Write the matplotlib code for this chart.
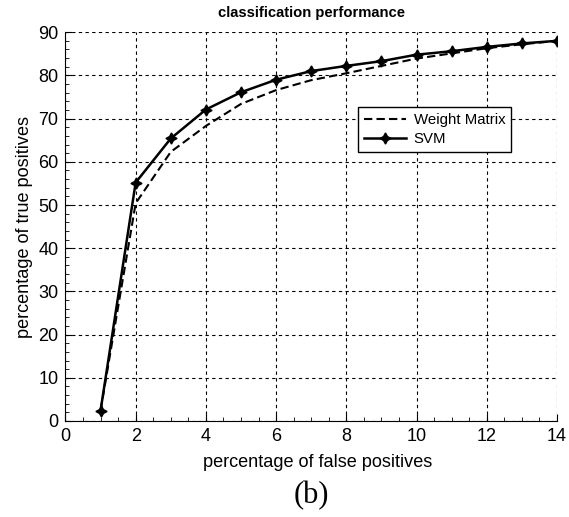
import matplotlib
matplotlib.use('Agg')
import matplotlib.pyplot as plt
from matplotlib.ticker import MultipleLocator

plt.rcParams['font.family'] = ['Liberation Sans', 'DejaVu Sans']

# False-positive percentage (x) and true-positive percentage (y)
fp = [1, 2, 3, 4, 5, 6, 7, 8, 9, 10, 11, 12, 13, 14]
svm_tp = [2.4, 55.2, 65.4, 72.1, 76.1, 79.0, 81.0, 82.2, 83.3, 84.8, 85.6, 86.6, 87.4, 88.0]
wm_tp = [2.4, 50.4, 62.3, 68.3, 73.4, 76.6, 78.9, 80.5, 82.2, 83.9, 85.1, 86.3, 87.2, 88.0]

fig = plt.figure(figsize=(5.69, 5.17), dpi=100)
ax = fig.add_axes([0.115, 0.1857, 0.864, 0.752])

ax.plot(fp, wm_tp, color='black', linestyle=(0, (4, 2)), linewidth=1.5, label='Weight Matrix')
ax.plot(fp, svm_tp, color='black', linestyle='-', linewidth=1.8,
        marker=(4, 1, 0), markersize=8, label='SVM')

ax.set_xlim(0, 14)
ax.set_ylim(0, 90)
ax.xaxis.set_major_locator(MultipleLocator(2))
ax.xaxis.set_minor_locator(MultipleLocator(0.5))
ax.yaxis.set_major_locator(MultipleLocator(10))
ax.yaxis.set_minor_locator(MultipleLocator(2))
ax.tick_params(which='both', direction='in', labelsize=13, pad=5)
ax.tick_params(which='major', length=5)
ax.tick_params(which='minor', length=3)

ax.grid(True, which='major', color='black', linestyle=(0, (3, 3)), linewidth=0.8)
ax.spines['top'].set_visible(False)
ax.spines['right'].set_visible(False)

ax.set_title('classification performance', fontsize=10.6, fontweight='bold', pad=11)
ax.set_xlabel('percentage of false positives', fontsize=13.1, labelpad=6)
ax.set_ylabel('percentage of true positives', fontsize=13.1, labelpad=4)
ax.xaxis.set_label_coords(0.512, -0.085)

leg = ax.legend(loc='upper left', bbox_to_anchor=(0.58, 0.827), fontsize=10.8,
                fancybox=False, framealpha=1, edgecolor='black',
                handlelength=2.8, borderpad=0.4, labelspacing=0.35, handletextpad=0.5)
leg.get_frame().set_linewidth(1.0)

fig.text(0.548, 0.0406, '(b)', fontsize=22, family='Liberation Serif', ha='center', va='center')

fig.savefig('out.png', dpi=100)
